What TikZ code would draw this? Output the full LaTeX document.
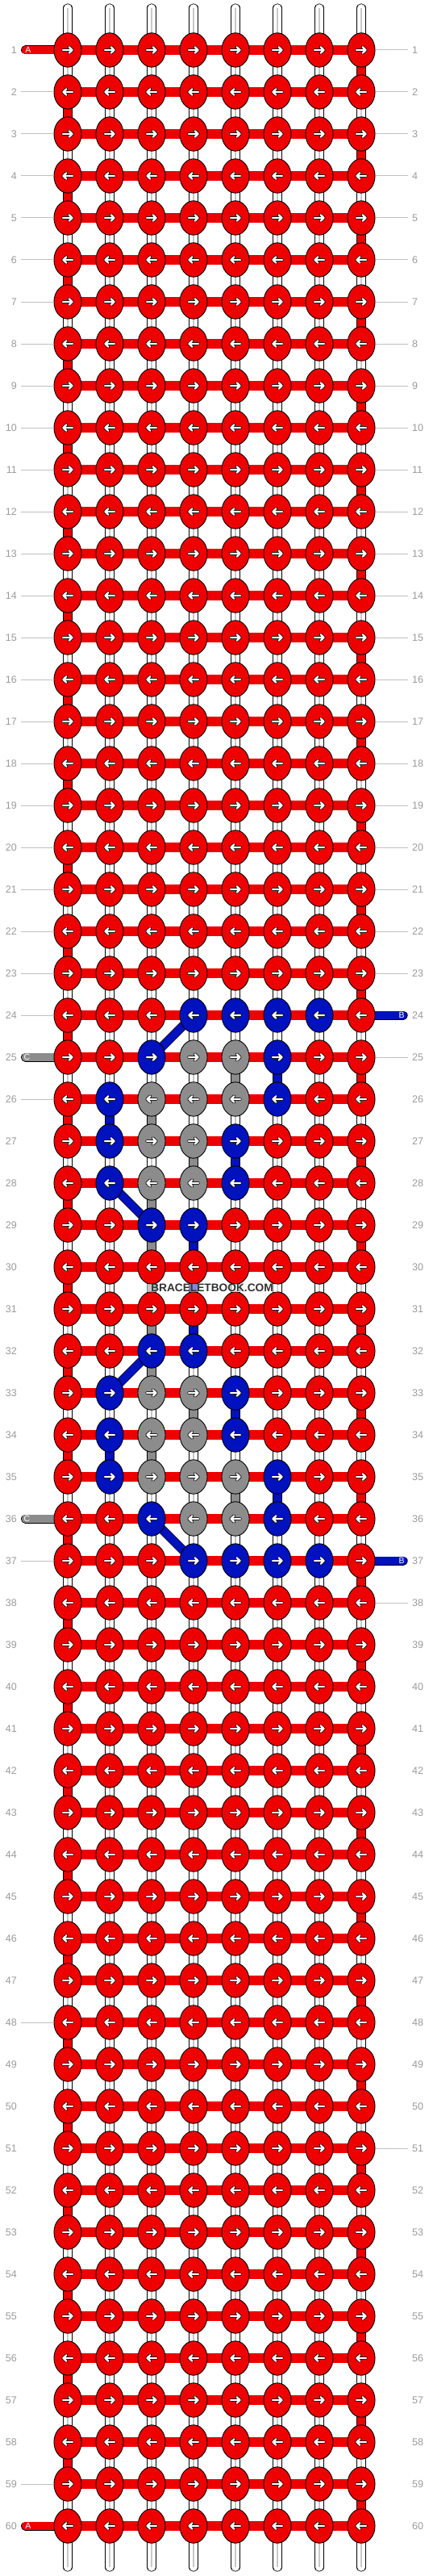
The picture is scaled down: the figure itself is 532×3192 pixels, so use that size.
\documentclass[tikz,border=0pt]{standalone}
\usepackage{fontspec}
\setmainfont{Liberation Sans}
\usetikzlibrary{shapes.geometric}
\definecolor{kred}{RGB}{238,0,0}
\definecolor{kblue}{RGB}{0,17,190}
\definecolor{kgray}{RGB}{140,140,140}
\colorlet{cR}{kred}\colorlet{cB}{kblue}\colorlet{cG}{kgray}
\definecolor{lblgray}{RGB}{155,155,155}
\definecolor{linegray}{RGB}{192,192,192}
\definecolor{strandgray}{RGB}{200,200,200}
\definecolor{wmtext}{RGB}{50,50,50}
\pgfdeclarelayer{bg}
\pgfsetlayers{bg,main}
% knot colours per row
\expandafter\def\csname krow24\endcsname{R,R,R,B,B,B,B,R}
\expandafter\def\csname krow25\endcsname{R,R,B,G,G,B,R,R}
\expandafter\def\csname krow26\endcsname{R,B,G,G,G,B,R,R}
\expandafter\def\csname krow27\endcsname{R,B,G,G,B,R,R,R}
\expandafter\def\csname krow28\endcsname{R,B,G,G,B,R,R,R}
\expandafter\def\csname krow29\endcsname{R,R,B,B,R,R,R,R}
\expandafter\def\csname krow32\endcsname{R,R,B,B,R,R,R,R}
\expandafter\def\csname krow33\endcsname{R,B,G,G,B,R,R,R}
\expandafter\def\csname krow34\endcsname{R,B,G,G,B,R,R,R}
\expandafter\def\csname krow35\endcsname{R,B,G,G,G,B,R,R}
\expandafter\def\csname krow36\endcsname{R,R,B,G,G,B,R,R}
\expandafter\def\csname krow37\endcsname{R,R,R,B,B,B,B,R}
% vertical segments between row r and r+1
\expandafter\def\csname vgap25\endcsname{W,W,W,W,G,B,W,R}
\expandafter\def\csname vgap26\endcsname{R,B,G,W,W,W,W,W}
\expandafter\def\csname vgap27\endcsname{W,W,W,G,B,W,W,R}
\expandafter\def\csname vgap28\endcsname{R,W,G,W,W,W,W,W}
\expandafter\def\csname vgap29\endcsname{W,W,G,B,W,W,W,R}
\expandafter\def\csname vgap30\endcsname{R,W,G,B,W,W,W,W}
\expandafter\def\csname vgap31\endcsname{W,W,G,B,W,W,W,R}
\expandafter\def\csname vgap32\endcsname{R,W,G,W,W,W,W,W}
\expandafter\def\csname vgap33\endcsname{W,W,W,G,B,W,W,R}
\expandafter\def\csname vgap34\endcsname{R,B,G,W,W,W,W,W}
\expandafter\def\csname vgap35\endcsname{W,W,W,W,G,B,W,R}
\tikzset{
  knot/.style={ellipse, draw=black, line width=0.9pt, minimum width=34.1pt, minimum height=42.4pt, inner sep=0pt},
  strand/.style={draw=black, line width=0.8pt, double=#1, double distance=9.6pt},
  hbar/.style={draw=black, line width=0.8pt, double=cR, double distance=11.1pt},
  thread/.style={draw=black, line width=0.8pt, double=#1, double distance=9.4pt, line cap=round},
  innerline/.style={draw=strandgray, line width=1.2pt},
  lbl/.style={text=lblgray, font=\fontsize{12.5}{12.5}\selectfont, inner sep=0pt},
  lblline/.style={draw=linegray, line width=1pt},
  threadlbl/.style={text=white, font=\fontsize{10.5}{10.5}\selectfont, inner sep=0pt},
  arrowR/.pic={
    \draw[line width=3.8pt, black, line cap=round, line join=round] (-6,0)--(5.6,0) (1.6,-3.8)--(5.6,0)--(1.6,3.8);
    \draw[line width=2.2pt, white, line cap=round, line join=round] (-6,0)--(5.6,0) (1.6,-3.8)--(5.6,0)--(1.6,3.8);
  },
  arrowL/.pic={
    \draw[line width=3.8pt, black, line cap=round, line join=round] (6,0)--(-5.6,0) (-1.6,-3.8)--(-5.6,0)--(-1.6,3.8);
    \draw[line width=2.2pt, white, line cap=round, line join=round] (6,0)--(-5.6,0) (-1.6,-3.8)--(-5.6,0)--(-1.6,3.8);
  }
}
\begin{document}
\begin{tikzpicture}[x=1pt,y=-1pt]
\useasboundingbox (0,0) rectangle (532,3192);
% knots
\foreach \r in {1,...,60}{
  \pgfmathsetmacro\yy{62+52*(\r-1)}
  \ifcsname krow\r\endcsname \edef\clist{\csname krow\r\endcsname}\else \def\clist{R,R,R,R,R,R,R,R}\fi
  \foreach \cc [count=\c] in \clist {
    \node[knot, fill=c\cc] (k-\r-\c) at ({84+52*(\c-1)},\yy) {};
    \ifodd\r\relax \pic at (k-\r-\c.center) {arrowR};\else \pic at (k-\r-\c.center) {arrowL};\fi
  }
}
\begin{pgfonlayer}{bg}
\fill[white] (0,0) rectangle (532,3192);
% top and bottom strand ends
\foreach \c in {1,...,8}{
  \coordinate (t-\c) at ({84+52*(\c-1)},10);
  \coordinate (b-\c) at ({84+52*(\c-1)},3181);
  \draw[strand=white, line cap=round] (t-\c) -- (k-1-\c.center);
  \draw[innerline] (t-\c) -- (k-1-\c.center);
  \draw[strand=white, line cap=round] (k-60-\c.center) -- (b-\c);
  \draw[innerline] (k-60-\c.center) -- (b-\c);
}
% vertical segments
\foreach \r in {1,...,59}{
  \pgfmathtruncatemacro\rn{\r+1}
  \ifcsname vgap\r\endcsname \edef\vlist{\csname vgap\r\endcsname}\else
    \ifodd\r\relax \def\vlist{W,W,W,W,W,W,W,R}\else \def\vlist{R,W,W,W,W,W,W,W}\fi
  \fi
  \foreach \vv [count=\c] in \vlist {
    \if\vv W
      \draw[strand=white] (k-\r-\c.center) -- (k-\rn-\c.center);
      \draw[innerline] (k-\r-\c.center) -- (k-\rn-\c.center);
    \else
      \draw[strand=c\vv] (k-\r-\c.center) -- (k-\rn-\c.center);
    \fi
  }
}
% horizontal bars
\foreach \r in {1,...,60}{
  \draw[hbar] (k-\r-1.center) -- (k-\r-8.center);
}
% diagonals
\draw[strand=cB] (k-24-4.center) -- (k-25-3.center);
\draw[strand=cB] (k-28-2.center) -- (k-29-3.center);
\draw[strand=cB] (k-32-3.center) -- (k-33-2.center);
\draw[strand=cB] (k-36-3.center) -- (k-37-4.center);
% start threads
\coordinate (tA-1) at (31.5,62);
\coordinate (tA-60) at (31.5,3130);
\coordinate (tC-25) at (31.5,1310);
\coordinate (tC-36) at (31.5,1882);
\coordinate (tB-24) at (500.2,1258);
\coordinate (tB-37) at (500.2,1934);
\draw[thread=cR] (tA-1) -- (k-1-1.center);
\draw[thread=cR] (tA-60) -- (k-60-1.center);
\draw[thread=cG] (tC-25) -- (k-25-1.center);
\draw[thread=cG] (tC-36) -- (k-36-1.center);
\draw[thread=cB] (k-24-8.center) -- (tB-24);
\draw[thread=cB] (k-37-8.center) -- (tB-37);
\end{pgfonlayer}
% thread letters
\node[threadlbl] (lA-1) at (35,62) {A};
\node[threadlbl] (lA-60) at (35,3130) {A};
\node[threadlbl] (lC-25) at (33.5,1310) {C};
\node[threadlbl] (lC-36) at (33.5,1882) {C};
\node[threadlbl] (lB-24) at (498,1258) {B};
\node[threadlbl] (lB-37) at (498,1934) {B};
% row labels
\foreach \r in {1,...,60}{
  \pgfmathsetmacro\yy{62+52*(\r-1)}
  \node[lbl, anchor=east] (ll-\r) at (21,\yy) {\r};
  \node[lbl, anchor=west] (rl-\r) at (511,\yy) {\r};
}
\foreach \r in {2,...,24,26,...,35,37,...,59}
  \draw[lblline, shorten <=5pt] (ll-\r.east) -- (k-\r-1.west);
\foreach \r in {1,...,23,25,...,36,38,...,60}
  \draw[lblline, shorten >=5pt] (k-\r-8.east) -- (rl-\r.west);
% watermark
\node[font=\bfseries\fontsize{13.7}{13.7}\selectfont, text=wmtext, fill=white, fill opacity=0.5, text opacity=1, inner xsep=4.8pt, inner ysep=0.2pt] (wm) at (263,1595.7) {BRACELETBOOK.COM};
\end{tikzpicture}
\end{document}
